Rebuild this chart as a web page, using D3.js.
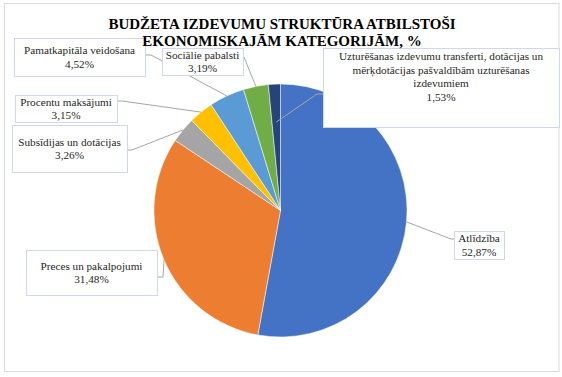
<!DOCTYPE html>
<html>
<head>
<meta charset="utf-8">
<script src="https://cdn.jsdelivr.net/npm/d3@7"></script>
<style>
  html, body { margin: 0; padding: 0; background: #fff; }
  svg { display: block; }
</style>
</head>
<body>
<svg id="chart"></svg>
<script>
// data
const categories = ["Atlīdzība", "Preces un pakalpojumi", "Subsīdijas un dotācijas",
                    "Procentu maksājumi", "Pamatkapitāla veidošana", "Sociālie pabalsti",
                    "Uzturēšanas izdevumu transferti, dotācijas un mērķdotācijas pašvaldībām uzturēšanas izdevumiem"];
const values     = [52.87, 31.48, 3.26, 3.15, 4.52, 3.19, 1.53];
const valueText  = ["52,87%", "31,48%", "3,26%", "3,15%", "4,52%", "3,19%", "1,53%"];
const labelLines = [["Atlīdzība"], ["Preces un pakalpojumi"], ["Subsīdijas un dotācijas"],
                    ["Procentu maksājumi"], ["Pamatkapitāla veidošana"], ["Sociālie pabalsti"],
                    ["Uzturēšanas izdevumu transferti, dotācijas un", "mērķdotācijas pašvaldībām uzturēšanas", "izdevumiem"]];
const titleLines = ["BUDŽETA IZDEVUMU STRUKTŪRA ATBILSTOŠI", "EKONOMISKAJĀM KATEGORIJĀM, %"];

const colors = ["#4472c4", "#ed7d31", "#a5a5a5", "#ffc000", "#5b9bd5", "#70ad47", "#264478"];

// label box layout: box [x,y,w,h], attach point on box, elbow point, radius factor of slice point, text centre
const labelLayout = [
  {box: [454, 231, 50, 28],  attach: [454, 239], elbow: [451, 239], k: 1},
  {box: [26, 250, 131, 45],  attach: [157, 277], elbow: [163, 277], k: 1},
  {box: [12, 125, 115, 47],  attach: [127, 150], elbow: [132, 150], k: 1},
  {box: [15, 95, 102, 27],   attach: [117, 101], elbow: [122, 101], k: 1},
  {box: [14, 38, 131, 38],   attach: [145, 55],  elbow: [151, 55],  k: 1},
  {box: [162, 48, 81, 27],   attach: [243, 57],  elbow: [244, 57],  k: 1},
  {box: [323, 48, 236, 79],  attach: [323, 94],  elbow: [317, 94],  k: 0.7, tc: 76.5}
];

const width = 562, height = 377,
      cx = 280.5, cy = 210.5, radius = 126.5,
      lineH = 13.5,
      serif = 'Liberation Serif, serif';

const svg = d3.select('#chart')
              .attr('width', width)
              .attr('height', height);

// outer chart frame
svg.append('rect')
   .attr('x', 4.5).attr('y', 3.5)
   .attr('width', 554.5).attr('height', 368)
   .attr('fill', '#fff')
   .attr('stroke', '#d9d9d9');

const pie = d3.pie().sort(null).value(d => d)(values);
const arc = d3.arc().innerRadius(0).outerRadius(radius);

const g = svg.append('g').attr('transform', `translate(${cx},${cy})`);

g.selectAll('path.slice')
 .data(pie)
 .enter()
 .append('path')
 .classed('slice', true)
 .attr('d', arc)
 .attr('fill', (d, i) => colors[i])
 .attr('stroke', '#fff')
 .attr('stroke-width', 0.5);

// leader lines
svg.selectAll('polyline.leader')
   .data(pie)
   .enter()
   .append('polyline')
   .classed('leader', true)
   .attr('points', (d, i) => {
       const L = labelLayout[i];
       const r = radius * L.k;
       const p = d3.arc().innerRadius(r).outerRadius(r).centroid(d);
       return [[p[0] + cx, p[1] + cy], L.elbow, L.attach].map(q => q.join(',')).join(' ');
   })
   .attr('fill', 'none')
   .attr('stroke', '#a6a6a6')
   .attr('stroke-width', 1);

// label boxes
const labels = svg.selectAll('g.label')
   .data(pie)
   .enter()
   .append('g')
   .classed('label', true);

labels.append('rect')
   .attr('x', (d, i) => labelLayout[i].box[0] + 0.5)
   .attr('y', (d, i) => labelLayout[i].box[1] + 0.5)
   .attr('width', (d, i) => labelLayout[i].box[2])
   .attr('height', (d, i) => labelLayout[i].box[3])
   .attr('fill', '#fff')
   .attr('stroke', '#cfd8ea');

labels.each(function(d, i) {
    const L = labelLayout[i];
    const lines = labelLines[i].concat([valueText[i]]);
    const bx = L.box[0] + L.box[2] / 2,
          by = L.tc != null ? L.tc : L.box[1] + L.box[3] / 2;
    d3.select(this).selectAll('text')
      .data(lines)
      .enter()
      .append('text')
      .attr('x', bx)
      .attr('y', (t, j) => by - (lines.length - 1) * lineH / 2 + j * lineH + 4)
      .attr('text-anchor', 'middle')
      .attr('font-family', serif)
      .attr('font-size', 11.2)
      .attr('fill', '#262626')
      .text(t => t);
});

// title
svg.selectAll('text.title')
   .data(titleLines)
   .enter()
   .append('text')
   .classed('title', true)
   .attr('x', 282)
   .attr('y', (d, i) => 28.5 + i * 17)
   .attr('text-anchor', 'middle')
   .attr('font-family', serif)
   .attr('font-size', 15)
   .attr('font-weight', 'bold')
   .attr('fill', '#000')
   .text(d => d);
</script>
</body>
</html>
